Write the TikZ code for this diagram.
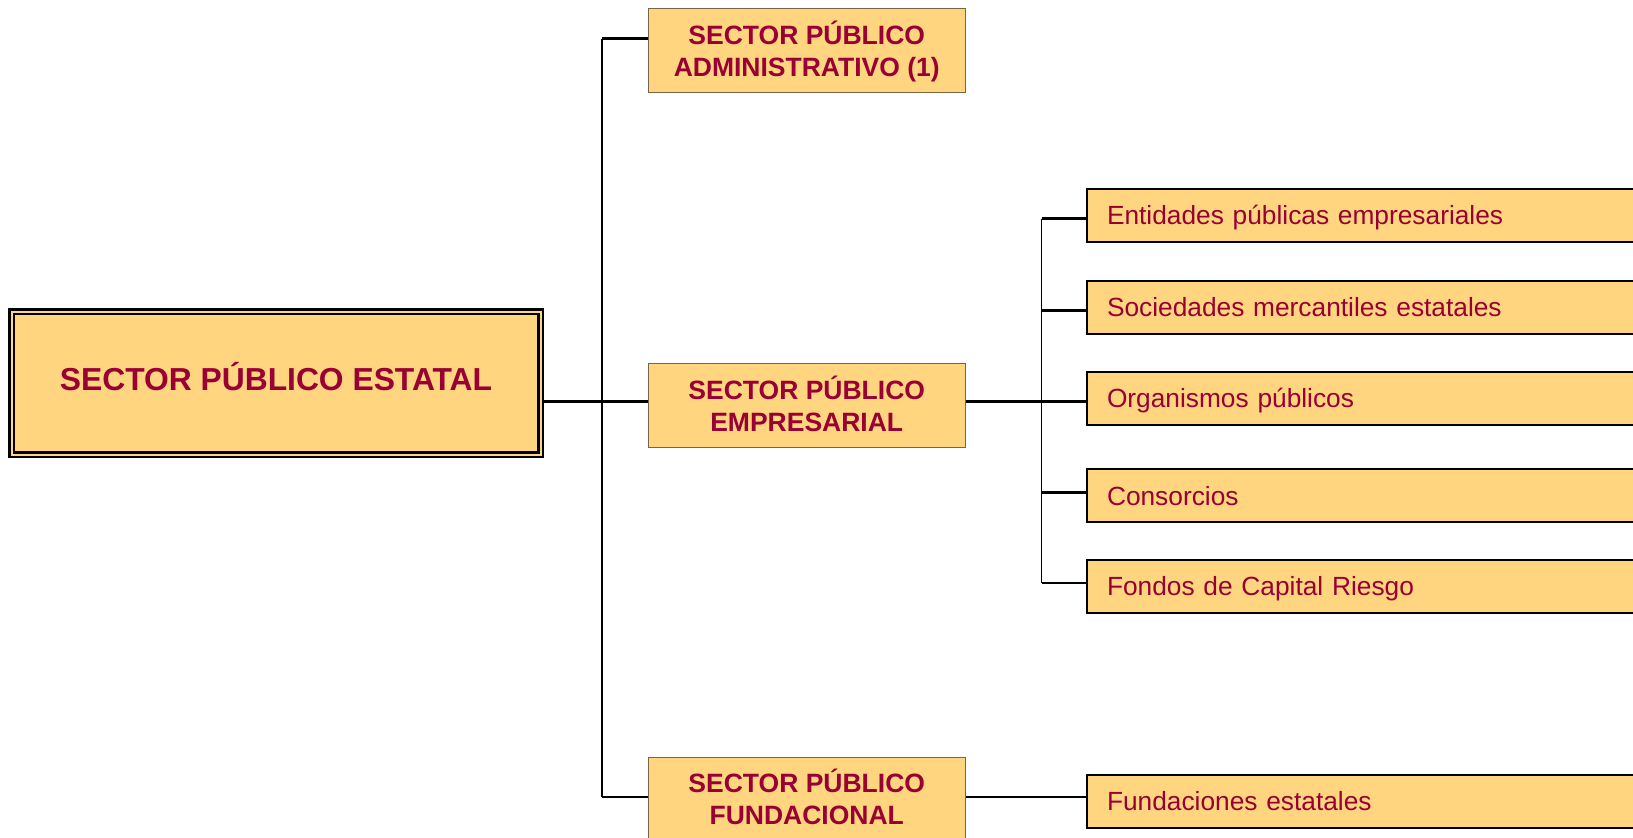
\documentclass[tikz,border=0pt]{standalone}
\usepackage{fontspec}
\setmainfont{Liberation Sans}
\definecolor{boxfill}{RGB}{255,213,128}
\definecolor{boxtext}{RGB}{153,0,51}
\definecolor{boxedge}{RGB}{120,100,70}
\tikzset{
	rootbox/.style = {draw = black, line width = 1.25pt, double = boxfill, double distance = 1pt, fill = boxfill, text = boxtext,
		font = \fontsize{15.9}{19}\selectfont\bfseries, text height = 11.4pt, text depth = 4pt,
		minimum width = 264.5pt, minimum height = 71.5pt, inner sep = 0pt, outer sep = 1.75pt},
	sectorbox/.style = {draw = boxedge, line width = 0.5pt, fill = boxfill, text = boxtext, align = center,
		font = \fontsize{13.25}{16}\selectfont\bfseries, text height = 25.5pt, text depth = 0pt,
		minimum width = 158.75pt, minimum height = 42.2pt, inner sep = 0pt},
	itembox/.style = {draw = black, line width = 1pt, fill = boxfill, text = boxtext, align = left, anchor = west,
		font = \fontsize{13.15}{16}\selectfont, text height = 9.4pt, text depth = 0pt,
		text width = 267pt, minimum height = 26.5pt, inner xsep = 10pt, inner ysep = 0pt},
	link/.style = {line width = 1.1pt},
}
\begin{document}
\begin{tikzpicture}[x = 0.5pt, y = -0.5pt]
		\useasboundingbox (0, 0) rectangle (1633, 837);
		\clip (0, 0) rectangle (1633, 837);
		% left: whole sector
		\node[rootbox] (estatal) at (276, 383) {SECTOR PÚBLICO ESTATAL};
		% middle column
		\node[sectorbox] (admin) at (806.75, 50.5) {SECTOR PÚBLICO\\ADMINISTRATIVO (1)};
		\node[sectorbox] (empres) at (806.75, 405.75) {SECTOR PÚBLICO\\EMPRESARIAL};
		\node[sectorbox] (fundac) at (806.75, 799.2) {SECTOR PÚBLICO\\FUNDACIONAL};
		\coordinate (trunktop) at (602, 38.5);
		\coordinate (hub) at (602, 401.5);
		\coordinate (trunkbot) at (602, 797);
		\draw[link] (trunktop) -- (trunkbot);
		\draw[link] (trunktop) -- (trunktop -| admin.west);
		\draw[link] (hub -| estatal.east) -- (hub -| empres.west);
		\draw[link] (trunkbot) -- (trunkbot -| fundac.west);
		% right column
		\coordinate (subtop) at (1041.5, 218.5);
		\coordinate (subbot) at (1041.5, 583.3);
		\draw[line width = 0.7pt] (subtop) -- (subbot);
		\draw[link] (hub -| empres.east) -- (hub -| subtop);
		\foreach \name/\y/\by/\txt in {entid/215/218.5/Entidades públicas empresariales, socied/307.3/310.5/Sociedades mercantiles estatales,
			organ/398.4/401.5/Organismos públicos, consor/495.9/492.5/Consorcios, fondos/586.5/583.3/Fondos de Capital Riesgo}{
			\node[itembox] (\name) at (1086, \y) {\txt};
			\draw[link] (1041.5, \by) -- (\name.west |- {(0, \by)});}
		\node[itembox] (fundes) at (1086, 801) {Fundaciones estatales};
		\draw[link] (trunkbot -| fundac.east) -- (trunkbot -| fundes.west);
\end{tikzpicture}
\end{document}
